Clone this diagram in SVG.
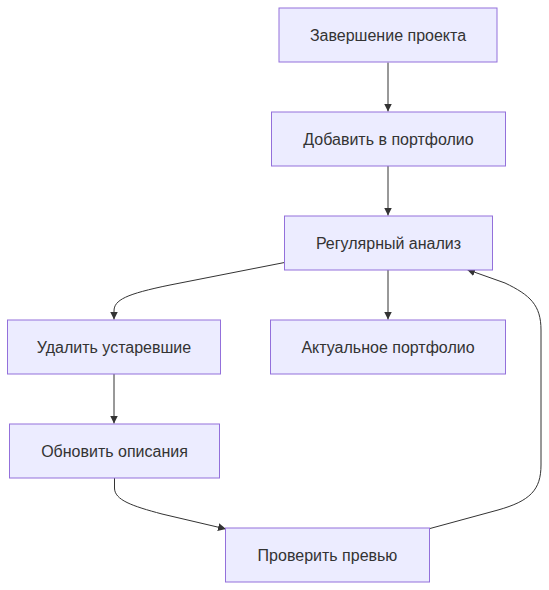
<svg xmlns="http://www.w3.org/2000/svg" width="549" height="590" viewBox="0 0 549 590">
<style>
.node rect{fill:#ECECFF;stroke:#9370DB;stroke-width:1px;}
.node text{font-family:"Liberation Sans",Arial,sans-serif;font-size:16px;fill:#333;text-anchor:middle;dominant-baseline:central;}
.edge{fill:none;stroke:#333;stroke-width:1px;}
</style>
<defs>
<marker id="arrow" viewBox="0 0 10 10" refX="10" refY="5" markerUnits="userSpaceOnUse" markerWidth="8" markerHeight="8" orient="auto">
<path d="M0,0 L10,5 L0,10 z" fill="#333"/>
</marker>
</defs>
<g id="connectors">
<path class="edge" d="M388,62.5 L388,111.5" marker-end="url(#arrow)"/>
<path class="edge" d="M388,166 L388,215.5" marker-end="url(#arrow)"/>
<path class="edge" d="M388,270 L388,319.5" marker-end="url(#arrow)"/>
<path class="edge" d="M284.5,262.5 L170,285 C126,294 114,300 114,311 L114,319.5" marker-end="url(#arrow)"/>
<path class="edge" d="M114,374 L114,423.5" marker-end="url(#arrow)"/>
<path class="edge" d="M114.5,478 L114.5,488 C114.5,500 132,506 162,514 L226,529" marker-end="url(#arrow)"/>
<path class="edge" d="M430,528.5 L498,510 C530,501 541,490 541,465 L541,330 C541,305 530,295 505,283 L467,269.5" marker-end="url(#arrow)"/>
</g>
<g id="node-finish" class="node">
<rect x="279" y="8" width="218" height="54"/>
<text x="388" y="35">Завершение проекта</text>
</g>
<g id="node-add" class="node">
<rect x="271.5" y="112" width="234" height="54"/>
<text x="388.5" y="139">Добавить в портфолио</text>
</g>
<g id="node-review" class="node">
<rect x="284.5" y="216" width="208" height="54"/>
<text x="388.5" y="243">Регулярный анализ</text>
</g>
<g id="node-remove" class="node">
<rect x="7.5" y="320" width="213" height="54"/>
<text x="114" y="347">Удалить устаревшие</text>
</g>
<g id="node-actual" class="node">
<rect x="270.5" y="320" width="235" height="54"/>
<text x="388" y="347">Актуальное портфолио</text>
</g>
<g id="node-update" class="node">
<rect x="9.5" y="424" width="210" height="54"/>
<text x="114.5" y="451">Обновить описания</text>
</g>
<g id="node-preview" class="node">
<rect x="225.5" y="528" width="204" height="54"/>
<text x="327.5" y="555">Проверить превью</text>
</g>
</svg>
